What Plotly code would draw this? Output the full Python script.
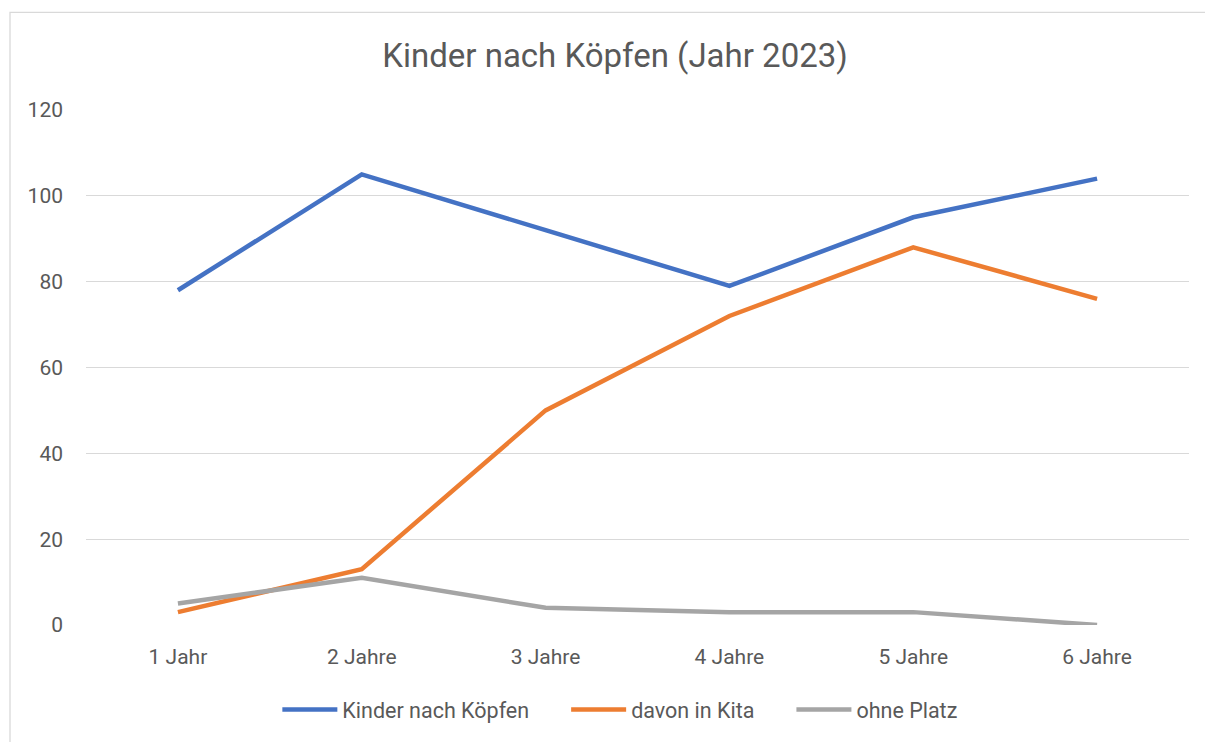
import plotly.graph_objects as go

categories = ["1 Jahr", "2 Jahre", "3 Jahre", "4 Jahre", "5 Jahre", "6 Jahre"]
kinder = [78, 105, 92, 79, 95, 104]
kita = [3, 13, 50, 72, 88, 76]
ohne = [5, 11, 4, 3, 3, 0]
series_names = ["Kinder nach Köpfen", "davon in Kita", "ohne Platz"]
colors = ["#4472C4", "#ED7D31", "#A5A5A5"]
y_ticks = [0, 20, 40, 60, 80, 100, 120]

FONT = "Roboto, Arial, sans-serif"
TXT = "#595959"
PAD = "\u00a0" * 6  # spacing between legend entries

fig = go.Figure()
n = len(series_names)
for i, (name, vals, col) in enumerate(zip(series_names, [kinder, kita, ohne], colors)):
    fig.add_trace(go.Scatter(
        x=categories, y=vals, mode="lines",
        name=name + (PAD if i < n - 1 else ""),
        line=dict(color=col, width=4.5),
    ))

fig.update_layout(
    width=1205, height=742,
    margin=dict(l=86, r=16, t=110, b=115),
    paper_bgcolor="white", plot_bgcolor="white",
    font=dict(family=FONT, color=TXT, size=21),
    title=dict(text="Kinder nach Köpfen (Jahr 2023)", xref="container", x=615 / 1205,
               xanchor="center", yref="container", y=1 - 55 / 742, yanchor="middle",
               font=dict(family=FONT, size=33, color=TXT)),
    showlegend=True,
    legend=dict(orientation="h", x=0.484, xanchor="center", y=-0.164, yanchor="middle",
                font=dict(family=FONT, size=21.5, color=TXT),
                itemwidth=55, traceorder="normal"),
    xaxis=dict(type="category", range=[-0.5, 5.5], showgrid=False, zeroline=False,
               showline=False, ticks="", ticklabelstandoff=17,
               tickfont=dict(size=21, color=TXT)),
    yaxis=dict(range=[0, 120], tickvals=y_ticks, showgrid=True, gridcolor="#D9D9D9",
               gridwidth=1.3, zeroline=False, showline=False, ticks="",
               ticklabelstandoff=22,
               tickfont=dict(size=21, color=TXT)),
    shapes=[dict(type="rect", xref="paper", yref="paper",
                 x0=(10 - 86) / 1103, x1=1.05, y0=-0.3, y1=(627 - 12) / 517,
                 line=dict(color="#D9D9D9", width=1.3), fillcolor="rgba(0,0,0,0)",
                 layer="below")],
)

fig.write_html("out.html", config={"displayModeBar": False},
               post_script="document.body.style.margin='0';document.body.style.overflow='hidden';")
